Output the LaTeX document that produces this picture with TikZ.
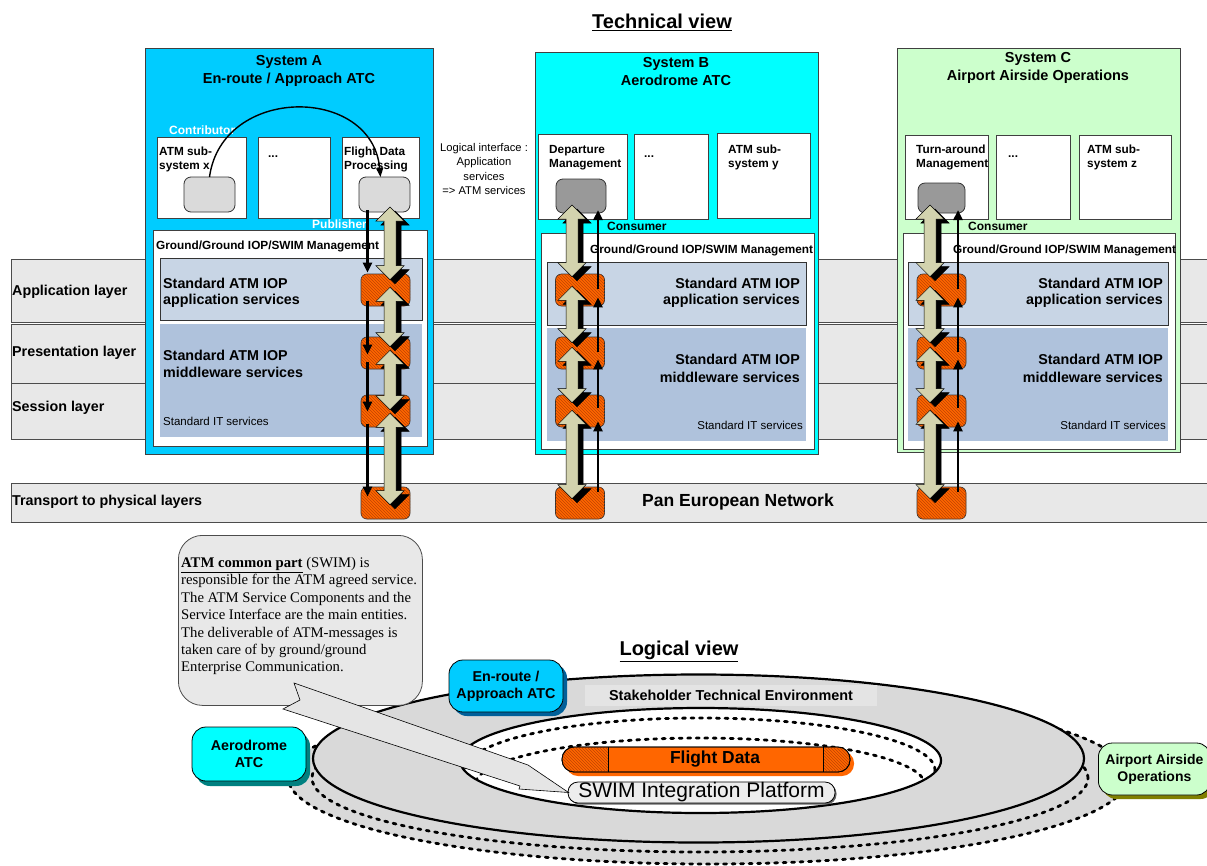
\documentclass[tikz,border=0pt]{standalone}
\usepackage{fontspec}
\setmainfont{Liberation Sans}
\newfontfamily\serifrm{Liberation Serif}
\usetikzlibrary{calc,patterns,shadows,shapes.geometric,arrows.meta}
\definecolor{sysAc}{HTML}{00CCFF}
\definecolor{sysBc}{HTML}{00FFFF}
\definecolor{sysCc}{HTML}{CCFFCC}
\definecolor{bandc}{HTML}{E8E8E8}
\definecolor{appc}{HTML}{C8D5E5}
\definecolor{mwc}{HTML}{AFC2DC}
\definecolor{greyl}{HTML}{DADADA}
\definecolor{greyd}{HTML}{999999}
\definecolor{khaki}{HTML}{D3D3AE}
\definecolor{orng}{HTML}{FF6600}
\definecolor{orngd}{HTML}{C04400}
\definecolor{ellg}{HTML}{D9D9D9}
\definecolor{stebg}{HTML}{E4E4E4}
\definecolor{calloutc}{HTML}{E8E8E8}
\definecolor{shA}{HTML}{00609A}
\definecolor{shB}{HTML}{008080}
\definecolor{shC}{HTML}{808000}
\newcommand\fz[2]{\fontsize{#1}{#2}\selectfont}
\newcommand\bx[6]{\node[anchor=north west,inner sep=0,outer sep=0,minimum width={#4-#2},minimum height={#5-#3},#6] (#1) at (#2,#3) {};}
\newcommand\dbl[2]{%
 \foreach \dx/\dy/\cc in {5/-4/black,0/0/khaki}{%
  \path[fill=\cc,draw=black,line width=0.5pt] let \p1=#1, \p2=#2 in
   (\x1+\dx pt,\y1+\dy pt) -- (\x1+14pt+\dx pt,\y1-14pt+\dy pt) -- (\x1+6pt+\dx pt,\y1-14pt+\dy pt)
   -- (\x1+6pt+\dx pt,\y2+14pt+\dy pt) -- (\x1+14pt+\dx pt,\y2+14pt+\dy pt) -- (\x1+\dx pt,\y2+\dy pt)
   -- (\x1-14pt+\dx pt,\y2+14pt+\dy pt) -- (\x1-6pt+\dx pt,\y2+14pt+\dy pt) -- (\x1-6pt+\dx pt,\y1-14pt+\dy pt)
   -- (\x1-14pt+\dx pt,\y1-14pt+\dy pt) -- cycle;
 }}
\begin{document}
\begin{tikzpicture}[x=1pt,y=-1pt,
  bandst/.style={fill=bandc,draw=black!70,line width=0.8pt},
  sysst/.style={draw=black!75,line width=1pt},
  subst/.style={draw=black!75,fill=white,line width=0.8pt},
  gbox/.style={draw=black!80,rounded corners=7pt,line width=0.8pt},
  ggst/.style={draw=black!75,fill=white,line width=0.8pt},
  appst/.style={draw=black!80,fill=appc,line width=0.8pt},
  mwst/.style={fill=mwc},
  obox/.style={draw=black!80,rounded corners=6pt,fill=orng,line width=0.7pt,
    postaction={pattern=north west lines,pattern color=orngd},
    minimum width=49pt,minimum height=32pt,inner sep=0},
  blk/.style={line width=2.5pt,-{Triangle[length=10pt,width=9pt]}},
  lyr/.style={inner sep=0,anchor=west,font=\bfseries\fz{14.3}{17}},
  ttl/.style={inner sep=0,align=center,font=\bfseries\fz{14.5}{18}},
  subl/.style={inner sep=0,anchor=north west,align=left,font=\bfseries\fz{11.8}{14}},
  role/.style={inner sep=0,anchor=west,font=\bfseries\fz{12}{14}},
  ggt/.style={inner sep=0,anchor=west,font=\bfseries\fz{11.8}{14}},
  svc/.style={inner sep=0,font=\bfseries\fz{14.3}{16}},
  itt/.style={inner sep=0,font=\fz{11.5}{14}},
  stk/.style={draw=black,line width=0.8pt,rounded corners=14pt,inner sep=0,align=center,font=\bfseries\fz{14.3}{17}},
  dotline/.style={draw=black,line width=2.8pt,dash pattern=on 3pt off 5.5pt,line cap=round},
  ell/.style={ellipse,inner sep=0,outer sep=0}]
\useasboundingbox (0,0) rectangle (1207,865);

% ---------- Technical view ----------
\node[font=\bfseries\fz{20}{24}] (tv) at (662,22) {\underline{Technical view}};

% layer bands
\bx{bApp}{11}{259}{1225}{322}{bandst}
\bx{bPre}{11}{324}{1225}{383}{bandst}
\bx{bSes}{11}{383}{1225}{439}{bandst}
\bx{bTra}{11}{483}{1225}{522}{bandst}
\node[lyr] (lApp) at (12,292) {Application layer};
\node[lyr] (lPre) at (12,353) {Presentation layer};
\node[lyr] (lSes) at (12,408) {Session layer};
\node[lyr] (lTra) at (12,502) {Transport to physical layers};
\node[font=\bfseries\fz{17.5}{20}] (pen) at (738,502) {Pan European Network};

% System A
\bx{sysA}{145}{48}{433}{454}{sysst,fill=sysAc}
\node[ttl] (tA) at (289,71) {System A\\En-route / Approach ATC};
\bx{sA1}{157}{137}{246}{218}{subst}
\bx{sA2}{258}{137}{330}{218}{subst}
\bx{sA3}{342}{137}{419}{218}{subst}
\node[subl] (lA1) at (159,147) {ATM sub-\\system x};
\node[inner sep=0,anchor=base west,font=\bfseries\fz{11.8}{14}] (lA2) at (268,157) {...};
\node[subl] (lA3) at (344,147) {Flight Data\\Processing};
\bx{gA1}{184}{177}{235}{212}{gbox,fill=greyl}
\bx{gA2}{359}{177}{410}{212}{gbox,fill=greyl}
\node[role,text=white] (contr) at (169,130) {Contributor};
\bx{ggA}{153}{230}{427}{446}{ggst}
\node[role,text=white] (publ) at (312,224) {Publisher};
\node[ggt] (ggtA) at (156,246) {Ground/Ground IOP/SWIM Management};
\bx{apA}{160}{258}{422}{320}{appst}
\bx{mwA}{160}{324}{422}{437}{mwst}
\node[svc,anchor=north west,align=left] (apAt) at (163,277.5) {Standard ATM IOP\\application services};
\node[svc,anchor=north west,align=left,font=\bfseries\fz{14.3}{17}] (mwAt) at (163,349.5) {Standard ATM IOP\\middleware services};
\node[itt,anchor=west] (itA) at (163,421) {Standard IT services};

% System B
\bx{sysB}{535}{52}{818}{454}{sysst,fill=sysBc}
\node[ttl] (tB) at (676,72) {System B\\Aerodrome ATC};
\bx{sB1}{538}{134}{627}{219}{subst}
\bx{sB2}{634}{134}{708}{219}{subst}
\bx{sB3}{717}{133}{810}{218}{subst}
\node[subl] (lB1) at (549,145) {Departure\\Management};
\node[inner sep=0,anchor=base west,font=\bfseries\fz{11.8}{14}] (lB2) at (644,157) {...};
\node[subl] (lB3) at (728,145) {ATM sub-\\system y};
\bx{gB}{556}{179}{606}{213}{gbox,fill=greyd}
\node[role] (consB) at (607,226) {Consumer};
\bx{ggB}{541}{233}{814}{449}{ggst}
\node[ggt] (ggtB) at (590,250) {Ground/Ground IOP/SWIM Management};
\bx{apB}{547}{262}{806}{325}{appst}
\bx{mwB}{547}{328}{806}{441}{mwst}
\node[svc,anchor=north east,align=right] (apBt) at (800,277.5) {Standard ATM IOP\\application services};
\node[svc,anchor=north east,align=right,font=\bfseries\fz{14.3}{18}] (mwBt) at (800,353.5) {Standard ATM IOP\\middleware services};
\node[itt,anchor=east] (itB) at (803,425) {Standard IT services};

% System C
\bx{sysC}{897}{48}{1180}{452}{sysst,fill=sysCc}
\node[ttl] (tC) at (1038,67.5) {System C\\Airport Airside Operations};
\bx{sC1}{905}{135}{988}{219}{subst}
\bx{sC2}{996}{135}{1070}{219}{subst}
\bx{sC3}{1079}{135}{1171}{219}{subst}
\node[subl] (lC1) at (916,145) {Turn-around\\Management};
\node[inner sep=0,anchor=base west,font=\bfseries\fz{11.8}{14}] (lC2) at (1008,157) {...};
\node[subl] (lC3) at (1087,145) {ATM sub-\\system z};
\bx{gC}{918}{183}{965}{213}{gbox,fill=greyd}
\node[role] (consC) at (968,226) {Consumer};
\bx{ggC}{903}{233}{1175}{449}{ggst}
\node[ggt] (ggtC) at (953,250) {Ground/Ground IOP/SWIM Management};
\bx{apC}{908}{262}{1168}{325}{appst}
\bx{mwC}{908}{328}{1168}{441}{mwst}
\node[svc,anchor=north east,align=right] (apCt) at (1163,277.5) {Standard ATM IOP\\application services};
\node[svc,anchor=north east,align=right,font=\bfseries\fz{14.3}{18}] (mwCt) at (1163,353.5) {Standard ATM IOP\\middleware services};
\node[itt,anchor=east] (itC) at (1166,425) {Standard IT services};

% logical interface text
\node[inner sep=0,align=center,font=\fz{11.2}{14.2}] (li) at (484,169) {Logical interface :\\Application\\services\\=> ATM services};

% orange protocol boxes
\foreach \s/\cx in {A/385.5,B/580,C/941.5}{
  \foreach \i/\cy in {1/290,2/353,3/411,4/503}{
    \node[obox] (o\s\i) at (\cx,\cy) {};
  }}

% curved contributor -> publisher arrow
\draw[line width=1.4pt,-{Triangle[length=9pt,width=7pt]}] (gA1.north) .. controls (222,85) and (372,85) .. ($(gA2.north)+(-4,0)$);

% double arrows
\dbl{($(gA2.south)+(5.5,-5)$)}{($(oA1.north)+(0,6)$)}
\dbl{($(oA1.south)+(4.5,-19)$)}{($(oA2.north)+(0,10)$)}
\dbl{($(oA2.south)+(4.5,-19)$)}{($(oA3.north)+(0,15)$)}
\dbl{($(oA3.south)+(4.5,-14)$)}{($(oA4.north)+(0,18)$)}
\dbl{($(gB.south)+(-9,-8)$)}{($(oB1.north)+(0,3)$)}
\dbl{($(oB1.south)+(-8,-20)$)}{($(oB2.north)+(0,6)$)}
\dbl{($(oB2.south)+(-8,-22)$)}{($(oB3.north)+(0,8)$)}
\dbl{($(oB3.south)+(-8,-17)$)}{($(oB4.north)+(0,12)$)}
\dbl{($(gC.south)+(-11.5,-8)$)}{($(oC1.north)+(0,3)$)}
\dbl{($(oC1.south)+(-11.5,-20)$)}{($(oC2.north)+(0,6)$)}
\dbl{($(oC2.south)+(-11.5,-22)$)}{($(oC3.north)+(0,8)$)}
\dbl{($(oC3.south)+(-11.5,-17)$)}{($(oC4.north)+(0,12)$)}

% black message arrows
\draw[blk] ($(gA2.south)+(-17,-2)$) -- ($(oA1.north)+(-18,-1)$);
\draw[blk] ($(oA1.south)+(-18,-5)$) -- ($(oA2.north)+(-18,18)$);
\draw[blk] ($(oA2.south)+(-18,-7)$) -- ($(oA3.north)+(-18,17)$);
\draw[blk] ($(oA3.south)+(-18,-3)$) -- ($(oA4.north)+(-18,10)$);
\foreach \s/\d/\g in {B/18/17,C/16.5/16.5}{
  \draw[blk] ($(o\s4.north)+(\d,5)$) -- ($(o\s3.south)+(\d,-6)$);
  \draw[blk] ($(o\s3.north)+(\d,13)$) -- ($(o\s2.south)+(\d,-10)$);
  \draw[blk] ($(o\s2.north)+(\d,15)$) -- ($(o\s1.south)+(\d,-9)$);
  \draw[blk] ($(o\s1.north)+(\d,15)$) -- ($(g\s.south)+(\g,-3)$);
}

% ---------- Logical view ----------
\node[font=\bfseries\fz{20}{24}] (lv) at (679,651) {\underline{Logical view}};
\node[ell,dotline,fill=ellg,minimum width=840,minimum height=174] (E2) at (708,777) {};
\node[ell,dotline,fill=ellg,minimum width=776,minimum height=148] (E1) at (700,778) {};
\node[ell,draw=black,line width=2.2pt,fill=ellg,minimum width=771,minimum height=168] (env) at (698.5,758.5) {};
\node[inner sep=0,fill=stebg,minimum width=292,minimum height=21,font=\bfseries\fz{14.4}{17}] (ste) at (731,695) {Stakeholder Technical Environment};
\node[ell,draw=black,line width=2.2pt,fill=white,minimum width=481,minimum height=105] (core) at (700.5,760.5) {};
\begin{scope}
  \clip (core.center) ellipse [x radius=239.4, y radius=51.4];
  \node[ell,dotline,minimum width=470,minimum height=104] (D1) at (700,770) {};
  \node[ell,dotline,minimum width=450,minimum height=94] (D2) at (700,785) {};
\end{scope}

% Flight data bar
\node[inner sep=0,outer sep=0,rounded corners=12pt,fill=orng,draw=black,line width=0.8pt,
  minimum width=288,minimum height=25,
  drop shadow={shadow xshift=4pt,shadow yshift=-4pt,fill=orng,opacity=1}] (fd) at (706,759.5) {};
\begin{scope}
  \clip[rounded corners=12pt] (fd.north west) rectangle (fd.south east);
  \fill[pattern=north west lines,pattern color=orngd] (fd.north west) rectangle ($(fd.south west)+(46,0)$);
  \fill[pattern=north west lines,pattern color=orngd] ($(fd.north east)+(-27,0)$) rectangle (fd.south east);
\end{scope}
\draw[line width=0.8pt] ($(fd.north west)+(46,0)$) -- ($(fd.south west)+(46,0)$);
\draw[line width=0.8pt] ($(fd.north east)+(-27,0)$) -- ($(fd.south east)+(-27,0)$);
\draw[line width=0.8pt,rounded corners=12pt] (fd.north west) rectangle (fd.south east);
\node[inner sep=0,font=\bfseries\fz{17.4}{20}] (fdt) at (715,759) {Flight Data};

% SWIM integration platform
\node[inner sep=0,rounded corners=10pt,draw=black,line width=0.8pt,fill=black!7,
  minimum width=267,minimum height=21,font=\fz{21}{24},
  drop shadow={shadow xshift=1.5pt,shadow yshift=-1.5pt,fill=black!60,opacity=1}] (swim) at (701.5,792.5) {SWIM Integration Platform};

% stakeholder boxes
\node[stk,fill=sysAc,minimum width=114,minimum height=52,
  drop shadow={shadow xshift=4pt,shadow yshift=-4pt,fill=shA,opacity=1}] (stA) at (506,686) {En-route /\\Approach ATC};
\node[stk,fill=sysBc,minimum width=114,minimum height=54,
  drop shadow={shadow xshift=4pt,shadow yshift=-5pt,fill=shB,opacity=1}] (stB) at (249,754) {Aerodrome\\ATC};
\node[stk,fill=sysCc,minimum width=112,minimum height=52,anchor=west,font=\bfseries\fz{14}{17},
  drop shadow={shadow xshift=4pt,shadow yshift=-4pt,fill=shC,opacity=1}] (stC) at (1098,769) {Airport Airside\\Operations};

% callout
\node[anchor=north west,draw=black!70,line width=0.8pt,fill=calloutc,rounded corners=24pt,
  minimum width=244,minimum height=170,inner sep=0] (co) at (178,535) {};
\node[anchor=north west,inner sep=0,align=left,font=\serifrm\fz{14.7}{17.4}] (cot) at (181,557)
 {\underline{\textbf{ATM common part}} (SWIM) is\\
  responsible for the ATM agreed service.\\
  The ATM Service Components and the\\
  Service Interface are the main entities.\\
  The deliverable of ATM-messages is\\
  taken care of by ground/ground\\
  Enterprise Communication.};
\filldraw[fill=black!10,draw=black,line width=0.6pt] (294,683) -- (528,765) -- ($(swim.west)+(1,0)$) -- (519,789) -- (520,786) -- (283,709) -- (300,700) -- cycle;
\end{tikzpicture}
\end{document}
